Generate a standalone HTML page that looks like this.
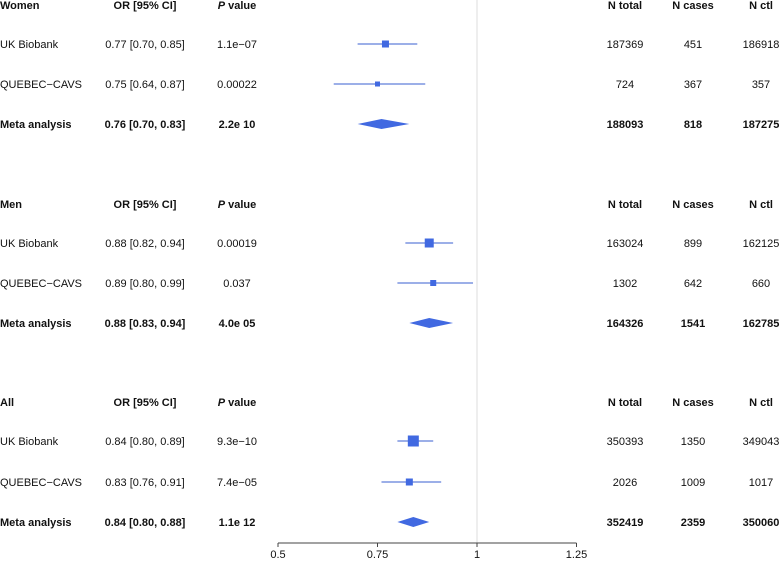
<!DOCTYPE html>
<html><head><meta charset="utf-8"><style>
body{margin:0;background:#fff;}
svg{font-family:"Liberation Sans",sans-serif;font-size:11px;fill:#111;}
.b{font-weight:bold;}
</style></head><body>
<svg id="c" width="780" height="560"></svg>
<script>
const groups=["Women","Men","All"];
const studies=["UK Biobank","QUEBEC−CAVS","Meta analysis"];
const orVals=[[0.77,0.75,0.76],[0.88,0.89,0.88],[0.84,0.83,0.84]];
const loVals=[[0.70,0.64,0.70],[0.82,0.80,0.83],[0.80,0.76,0.80]];
const hiVals=[[0.85,0.87,0.83],[0.94,0.99,0.94],[0.89,0.91,0.88]];
const pLabels=[["1.1e−07","0.00022","2.2e 10"],["0.00019","0.037","4.0e 05"],["9.3e−10","7.4e−05","1.1e 12"]];
const nTotal=[[187369,724,188093],[163024,1302,164326],[350393,2026,352419]];
const nCases=[[451,367,818],[899,642,1541],[1350,1009,2359]];
const nCtl=[[186918,357,187275],[162125,660,162785],[349043,1017,350060]];
const ticks=[0.5,0.75,1,1.25];
const tickLabels=["0.5","0.75","1","1.25"];
const headerY=[5,204,402];
const NS="http://www.w3.org/2000/svg";
const svg=document.getElementById('c');
const x=v=>278+(v-0.5)*398;
function mk(t,a,txt){const e=document.createElementNS(NS,t);for(const k in a)e.setAttribute(k,a[k]);if(txt!==undefined)e.textContent=txt;svg.appendChild(e);return e;}
let e=mk('line',{x1:x(1),x2:x(1),y1:0,y2:543,stroke:'#ddd','stroke-width':1});


e=mk('line',{x1:x(0.5),x2:x(1.25),y1:543,y2:543,stroke:'#444'});


ticks.forEach((t,i)=>{
 let l=mk('line',{x1:x(t),x2:x(t),y1:543,y2:547,stroke:'#444'});
 
 
 let tx=mk('text',{x:x(t),y:558,'text-anchor':'middle'},tickLabels[i]);
 
 
});
function txt(s,xx,y,anchor,bold,name){let t=mk('text',{x:xx,y:y+4,'text-anchor':anchor,class:bold?'b':''},s);return t;}
const sqSize=[[7,5,0],[9,6,0],[11,7,0]];
groups.forEach((g,gi)=>{
 const hy=headerY[gi];
 txt(g,0,hy,'start',true,'group-header');
 txt('OR [95% CI]',145,hy,'middle',true,'or-header');
 let p=txt('',237,hy,'middle',true,'p-header');
 const ti=document.createElementNS(NS,'tspan');ti.setAttribute('font-style','italic');ti.textContent='P';p.appendChild(ti);
 p.appendChild(document.createTextNode('  value'));
 txt('N total',625,hy,'middle',true,'ntotal-header');
 txt('N cases',693,hy,'middle',true,'ncases-header');
 txt('N ctl',761,hy,'middle',true,'nctl-header');
 studies.forEach((s,si)=>{
  const y=hy+39+si*40+(gi==2&&si>0?1:0);
  const b=si==2;
  txt(s,0,y,'start',b,'study-label');
  txt(orVals[gi][si].toFixed(2)+' ['+loVals[gi][si].toFixed(2)+', '+hiVals[gi][si].toFixed(2)+']',145,y,'middle',b,'or-ci-value');
  txt(pLabels[gi][si],237,y,'middle',b,'p-value');
  txt(String(nTotal[gi][si]),625,y,'middle',b,'n-total');
  txt(String(nCases[gi][si]),693,y,'middle',b,'n-cases');
  txt(String(nCtl[gi][si]),761,y,'middle',b,'n-ctl');
  if(b){
   let d=mk('polygon',{points:`${x(loVals[gi][si])},${y} ${x(orVals[gi][si])},${y-5} ${x(hiVals[gi][si])},${y} ${x(orVals[gi][si])},${y+5}`,fill:'#4169e1'});
   
   
  }else{
   let l=mk('line',{x1:x(loVals[gi][si]),x2:x(hiVals[gi][si]),y1:y,y2:y,stroke:'#3a5fd0','stroke-width':1.1});
   
   
   const sz=sqSize[gi][si];
   let r=mk('rect',{x:x(orVals[gi][si])-sz/2,y:y-sz/2,width:sz,height:sz,fill:'#4169e1'});
   
   
  }
 });
});
</script>
</body></html>
